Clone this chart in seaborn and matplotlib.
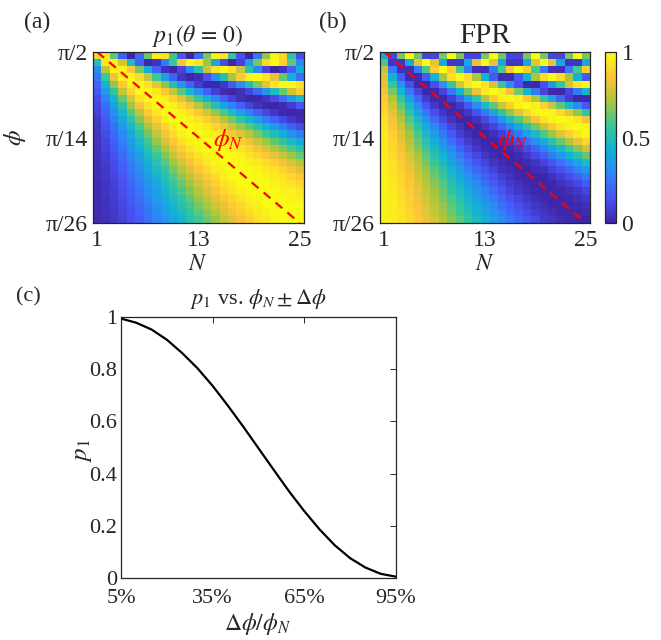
import numpy as np
import pandas as pd
import matplotlib
matplotlib.use("Agg")
import matplotlib.pyplot as plt
from matplotlib.colors import LinearSegmentedColormap
import seaborn as sns

# columns: N = 1..25 ; rows: phi from pi/2 (top) down to pi/26 (bottom) (in %)
N_VALUES = list(range(1, 26))
N_TICKS = [1, 13, 25]
PHI_TICK_DEN = [2, 14, 26]          # phi = pi / den
PHI_TICK_LABELS = ["π/2", "π/14", "π/26"]

P1_PCT = [
    [90, 95, 61, 18, 0, 20, 63, 96, 94, 58, 16, 0, 22, 65, 97, 93, 56, 14, 0, 24, 68, 98, 91, 53, 13],
    [50, 95, 97, 78, 48, 18, 1, 4, 26, 57, 85, 99, 94, 70, 39, 12, 0, 9, 34, 65, 91, 100, 89, 62, 30],
    [32, 75, 97, 98, 86, 65, 41, 18, 4, 0, 10, 29, 53, 77, 94, 100, 94, 77, 53, 29, 10, 0, 4, 18, 41],
    [25, 57, 83, 98, 99, 91, 76, 57, 36, 18, 5, 0, 3, 14, 31, 51, 71, 87, 97, 100, 94, 81, 62, 42, 23],
    [20, 44, 68, 87, 99, 99, 93, 82, 67, 50, 33, 18, 7, 1, 1, 6, 17, 32, 49, 66, 81, 93, 99, 99, 94],
    [17, 35, 55, 75, 90, 99, 99, 95, 86, 75, 61, 46, 31, 18, 8, 2, 0, 3, 10, 20, 33, 48, 63, 77, 88],
    [13, 28, 45, 64, 80, 93, 99, 100, 96, 89, 80, 68, 55, 42, 29, 18, 9, 3, 0, 1, 5, 12, 22, 34, 47],
    [11, 23, 38, 54, 70, 84, 94, 99, 100, 97, 91, 84, 74, 63, 51, 39, 28, 18, 10, 4, 1, 0, 2, 7, 15],
    [9, 19, 32, 46, 61, 75, 87, 95, 99, 100, 97, 93, 86, 78, 69, 59, 48, 37, 27, 18, 11, 5, 1, 0, 1],
    [7, 16, 27, 40, 53, 67, 79, 89, 96, 100, 100, 98, 94, 89, 82, 73, 65, 55, 45, 35, 26, 18, 11, 6, 2],
    [6, 14, 23, 35, 47, 59, 71, 82, 90, 96, 100, 100, 98, 95, 90, 84, 77, 69, 61, 52, 43, 34, 26, 18, 12],
    [5, 12, 20, 30, 41, 53, 64, 75, 84, 92, 97, 100, 100, 98, 96, 92, 86, 80, 73, 65, 57, 49, 41, 33, 25],
    [5, 10, 18, 27, 37, 47, 58, 69, 78, 86, 93, 97, 100, 100, 99, 96, 93, 88, 83, 76, 70, 62, 54, 47, 39],
    [4, 9, 16, 24, 33, 42, 53, 63, 72, 81, 88, 94, 98, 100, 100, 99, 97, 94, 90, 85, 79, 73, 66, 59, 52],
    [4, 8, 14, 21, 29, 38, 48, 57, 66, 75, 83, 89, 94, 98, 100, 100, 99, 97, 94, 91, 86, 81, 76, 70, 63],
    [3, 7, 12, 19, 26, 35, 43, 52, 61, 70, 78, 85, 90, 95, 98, 100, 100, 99, 97, 95, 92, 88, 83, 78, 73],
    [3, 6, 11, 17, 24, 31, 39, 48, 56, 65, 73, 80, 86, 91, 96, 98, 100, 100, 99, 98, 95, 93, 89, 85, 80],
    [3, 6, 10, 15, 22, 29, 36, 44, 52, 60, 68, 75, 82, 87, 92, 96, 99, 100, 100, 99, 98, 96, 93, 90, 86],
    [2, 5, 9, 14, 20, 26, 33, 40, 48, 56, 63, 70, 77, 83, 89, 93, 96, 99, 100, 100, 99, 98, 96, 94, 91],
    [2, 5, 8, 13, 18, 24, 30, 37, 45, 52, 59, 66, 73, 79, 85, 90, 94, 97, 99, 100, 100, 99, 98, 97, 94],
    [2, 4, 8, 12, 17, 22, 28, 35, 41, 48, 55, 62, 69, 75, 81, 86, 90, 94, 97, 99, 100, 100, 99, 98, 97],
    [2, 4, 7, 11, 15, 20, 26, 32, 38, 45, 52, 58, 65, 71, 77, 82, 87, 91, 95, 97, 99, 100, 100, 99, 99],
    [2, 4, 6, 10, 14, 19, 24, 30, 36, 42, 48, 55, 61, 67, 73, 79, 84, 88, 92, 95, 97, 99, 100, 100, 99],
    [2, 3, 6, 9, 13, 17, 22, 28, 33, 39, 45, 52, 58, 64, 69, 75, 80, 85, 89, 93, 95, 98, 99, 100, 100],
]

FPR_PCT = [
    [40, 10, 65, 100, 65, 10, 10, 65, 100, 65, 10, 10, 65, 100, 65, 10, 10, 65, 100, 65, 10, 10, 65, 100, 65],
    [60, 5, 5, 39, 81, 100, 81, 39, 5, 5, 39, 81, 100, 81, 39, 5, 5, 39, 81, 100, 81, 39, 5, 5, 39],
    [75, 25, 3, 3, 25, 59, 88, 100, 88, 59, 25, 3, 3, 25, 59, 88, 100, 88, 59, 25, 3, 3, 25, 59, 88],
    [80, 43, 17, 2, 2, 17, 43, 71, 92, 100, 92, 71, 43, 17, 2, 2, 17, 43, 71, 92, 100, 92, 71, 43, 17],
    [82, 56, 32, 13, 1, 1, 13, 32, 56, 78, 94, 100, 94, 78, 56, 32, 13, 1, 1, 13, 32, 56, 78, 94, 100],
    [84, 65, 45, 25, 10, 1, 1, 10, 25, 45, 65, 83, 96, 100, 96, 83, 65, 45, 25, 10, 1, 1, 10, 25, 45],
    [87, 72, 55, 36, 20, 7, 1, 1, 8, 20, 36, 55, 72, 87, 97, 100, 97, 87, 72, 55, 36, 20, 8, 1, 1],
    [89, 77, 62, 46, 30, 16, 6, 1, 1, 6, 16, 30, 46, 62, 77, 89, 97, 100, 97, 89, 77, 62, 46, 30, 16],
    [91, 81, 68, 54, 39, 25, 13, 5, 1, 1, 5, 13, 25, 39, 54, 68, 81, 91, 98, 100, 98, 91, 81, 68, 54],
    [93, 84, 73, 60, 47, 33, 21, 11, 4, 0, 0, 4, 11, 21, 33, 47, 60, 73, 84, 93, 98, 100, 98, 93, 84],
    [94, 86, 77, 65, 53, 41, 29, 18, 10, 4, 0, 0, 4, 10, 18, 29, 41, 53, 65, 77, 86, 94, 98, 100, 98],
    [95, 88, 80, 70, 59, 47, 36, 25, 16, 8, 3, 0, 0, 3, 8, 16, 25, 36, 47, 59, 70, 80, 88, 95, 99],
    [95, 90, 82, 73, 63, 53, 42, 31, 22, 14, 7, 3, 0, 0, 3, 7, 14, 22, 31, 42, 53, 63, 73, 82, 90],
    [96, 91, 84, 76, 67, 58, 47, 37, 28, 19, 12, 6, 2, 0, 0, 2, 6, 12, 19, 28, 37, 47, 58, 67, 77],
    [96, 92, 86, 79, 71, 62, 52, 43, 34, 25, 17, 11, 6, 2, 0, 0, 2, 6, 11, 17, 25, 34, 43, 52, 62],
    [97, 93, 88, 81, 74, 65, 57, 48, 39, 30, 22, 15, 10, 5, 2, 0, 0, 2, 5, 10, 15, 22, 30, 39, 48],
    [97, 94, 89, 83, 76, 69, 61, 52, 44, 35, 27, 20, 14, 9, 4, 2, 0, 0, 2, 4, 9, 14, 20, 28, 35],
    [97, 94, 90, 85, 78, 71, 64, 56, 48, 40, 32, 25, 18, 13, 8, 4, 1, 0, 0, 1, 4, 8, 13, 18, 25],
    [98, 95, 91, 86, 80, 74, 67, 60, 52, 44, 37, 30, 23, 17, 11, 7, 4, 1, 0, 0, 1, 4, 7, 11, 17],
    [98, 95, 92, 87, 82, 76, 70, 63, 55, 48, 41, 34, 27, 21, 15, 10, 6, 3, 1, 0, 0, 1, 3, 6, 10],
    [98, 96, 92, 88, 83, 78, 72, 65, 59, 52, 45, 38, 31, 25, 19, 14, 10, 6, 3, 1, 0, 0, 1, 3, 6],
    [98, 96, 93, 89, 85, 80, 74, 68, 62, 55, 48, 42, 35, 29, 23, 18, 13, 9, 5, 3, 1, 0, 0, 1, 3],
    [98, 96, 94, 90, 86, 81, 76, 70, 64, 58, 52, 45, 39, 33, 27, 21, 16, 12, 8, 5, 3, 1, 0, 0, 1],
    [98, 97, 94, 91, 87, 83, 78, 72, 67, 61, 55, 48, 42, 36, 31, 25, 20, 15, 11, 7, 5, 2, 1, 0, 0],
]

# panel (c): p1 vs relative detuning
DELTA_PCT = [5, 10, 15, 20, 25, 30, 35, 40, 45, 50, 55, 60, 65, 70, 75, 80, 85, 90, 95]
P1_VS_DELTA = [0.994, 0.978, 0.952, 0.913, 0.862, 0.804, 0.736, 0.660, 0.580, 0.497,
               0.414, 0.332, 0.256, 0.186, 0.125, 0.076, 0.040, 0.016, 0.005]
X_TICKS_C = [5, 35, 65, 95]
Y_TICKS_C = [0, 0.2, 0.4, 0.6, 0.8, 1]

PARULA = [(0.2422, 0.1504, 0.6603), (0.2810, 0.3228, 0.9579), (0.1786, 0.5289, 0.9682),
          (0.0689, 0.6948, 0.8394), (0.2161, 0.7843, 0.5923), (0.6720, 0.7793, 0.2227),
          (0.9970, 0.7659, 0.2199), (0.9769, 0.9839, 0.0805)]
parula = LinearSegmentedColormap.from_list("parula", PARULA, N=256)

sns.set_style("white")
plt.rcParams["font.family"] = ["Liberation Serif", "DejaVu Serif"]
plt.rcParams["mathtext.fontset"] = "stix"

W, H = 661, 640
EDGE = "#262626"


def rect(x0, y0, x1, y1):
    return [x0 / W, 1 - y1 / H, (x1 - x0) / W, (y1 - y0) / H]


def ftext(x, y, s, **kw):
    kw.setdefault("ha", "center")
    kw.setdefault("va", "center")
    fig.text(x / W, 1 - y / H, s, **kw)


fig = plt.figure(figsize=(W / 100, H / 100), dpi=100)
ax_a = fig.add_axes(rect(93, 52, 304, 223))
ax_b = fig.add_axes(rect(380, 52, 590, 223))
cax = fig.add_axes(rect(605, 52, 616, 223))
ax_c = fig.add_axes(rect(121, 317, 396, 578))

df_a = pd.DataFrame(np.array(P1_PCT) / 100.0, columns=N_VALUES)
df_b = pd.DataFrame(np.array(FPR_PCT) / 100.0, columns=N_VALUES)

sns.heatmap(df_a, ax=ax_a, cmap=parula, vmin=0, vmax=1, cbar=False,
            xticklabels=False, yticklabels=False)
sns.heatmap(df_b, ax=ax_b, cmap=parula, vmin=0, vmax=1, cbar=True, cbar_ax=cax,
            xticklabels=False, yticklabels=False,
            cbar_kws={"ticks": [0, 0.25, 0.5, 0.75, 1]})

n_arr = np.array(N_VALUES)
phi_n_den = n_arr + 1                       # phi_N = pi / (N + 1)
first_den = PHI_TICK_DEN[0]
for ax, lab_x in ((ax_a, 14.2), (ax_b, 14.0)):
    ax.set_xticks([N_VALUES.index(n) + 0.5 for n in N_TICKS])
    ax.set_xticklabels([str(n) for n in N_TICKS])
    ax.set_yticks([d - first_den for d in PHI_TICK_DEN])
    ax.set_yticklabels(PHI_TICK_LABELS, rotation=0)
    ax.tick_params(axis="x", length=0, labelsize=17, pad=5)
    ax.tick_params(axis="y", length=0, labelsize=17, pad=4)
    for sp in ax.spines.values():
        sp.set_visible(True)
        sp.set_color(EDGE)
        sp.set_linewidth(0.9)
    ax.plot(n_arr - 0.5, phi_n_den - first_den, color="red", ls=(0, (4, 3)), lw=1.6)
    ax.text(lab_x, 12.3, r"$\phi_N$", color="red", fontsize=18, ha="left", va="center")
    ax.set_xlabel("")
    ax.set_ylabel("")

cbar = ax_b.collections[0].colorbar
cbar.set_ticks([0, 0.25, 0.5, 0.75, 1])
cbar.set_ticklabels(["0", "", "0.5", "", "1"])
cbar.ax.tick_params(direction="in", length=3, width=0.7, labelsize=17, pad=4, color=EDGE)
cbar.outline.set_edgecolor(EDGE)
cbar.outline.set_linewidth(0.9)

# panel (c)
sns.lineplot(x=DELTA_PCT, y=P1_VS_DELTA, ax=ax_c, color="black", linewidth=1.6)
ax_c.set_xlim(5, 95)
ax_c.set_ylim(0, 1)
ax_c.set_xticks(X_TICKS_C)
ax_c.set_xticklabels([f"{v}%" for v in X_TICKS_C])
ax_c.set_yticks(Y_TICKS_C)
ax_c.set_yticklabels(["0", "0.2", "0.4", "0.6", "0.8", "1"])
ax_c.tick_params(direction="in", top=True, right=True, length=4, width=0.7,
                 labelsize=16, color=EDGE)
ax_c.tick_params(axis="x", pad=8)
ax_c.tick_params(axis="y", pad=3)
for sp in ax_c.spines.values():
    sp.set_visible(True)
    sp.set_color(EDGE)
    sp.set_linewidth(0.9)
ax_c.set_xlabel("")
ax_c.set_ylabel("")

# titles, labels, panel letters
ftext(198, 36, r"$p_1(\theta\,=\,0)$", fontsize=17)
ftext(485, 36, "FPR", fontsize=21)
ftext(198, 264, r"$N$", fontsize=17)
ftext(485, 264, r"$N$", fontsize=17)
ftext(15, 138, r"$\phi$", fontsize=18, rotation=90)
ftext(37, 22, "(a)", fontsize=17)
ftext(333, 22, "(b)", fontsize=17)
ftext(28, 297, "(c)", fontsize=16)
ftext(258, 299, r"$p_1$ vs. $\phi_N \pm \Delta\phi$", fontsize=16)
ftext(258, 624, r"$\Delta\phi/\phi_N$", fontsize=17)
ftext(83, 450, r"$p_1$", fontsize=18, rotation=90)

fig.savefig("out.png", dpi=100)
